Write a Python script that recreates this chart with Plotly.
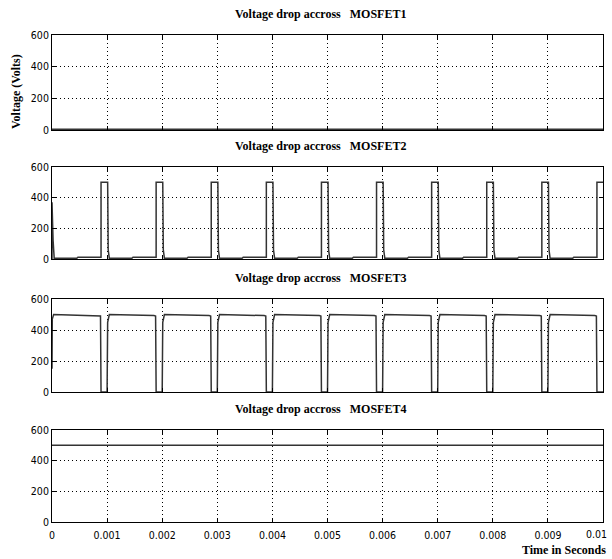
import plotly.graph_objects as go

# ---- data (time in ms, voltage in V) ----
m1_t = [0.0, 10.0]
m1_v = [4, 4]

m2_t = [0.0, 0.0, 0.02, 0.04, 0.45, 0.47, 0.89, 0.89,
        1.01, 1.02, 1.04, 1.45, 1.47, 1.89, 1.89,
        2.01, 2.02, 2.04, 2.45, 2.47, 2.89, 2.89,
        3.01, 3.02, 3.04, 3.45, 3.47, 3.89, 3.89,
        4.01, 4.02, 4.04, 4.45, 4.47, 4.89, 4.89,
        5.01, 5.02, 5.04, 5.45, 5.47, 5.89, 5.89,
        6.01, 6.02, 6.04, 6.45, 6.47, 6.89, 6.89,
        7.01, 7.02, 7.04, 7.45, 7.47, 7.89, 7.89,
        8.01, 8.02, 8.04, 8.45, 8.47, 8.89, 8.89,
        9.01, 9.02, 9.04, 9.45, 9.47, 9.89, 9.89, 10.0]
m2_v = [0, 370, 120, 5, 5, 12, 12, 500,
        500, 60, 5, 5, 12, 12, 500,
        500, 60, 5, 5, 12, 12, 500,
        500, 60, 5, 5, 12, 12, 500,
        500, 60, 5, 5, 12, 12, 500,
        500, 60, 5, 5, 12, 12, 500,
        500, 60, 5, 5, 12, 12, 500,
        500, 60, 5, 5, 12, 12, 500,
        500, 60, 5, 5, 12, 12, 500,
        500, 60, 5, 5, 12, 12, 500, 500]

m3_t = [0.0, 0.005, 0.03, 0.85, 0.88, 0.89, 1.0,
        1.01, 1.04, 1.85, 1.88, 1.89, 2.0,
        2.01, 2.04, 2.85, 2.88, 2.89, 3.0,
        3.01, 3.04, 3.85, 3.88, 3.89, 4.0,
        4.01, 4.04, 4.85, 4.88, 4.89, 5.0,
        5.01, 5.04, 5.85, 5.88, 5.89, 6.0,
        6.01, 6.04, 6.85, 6.88, 6.89, 7.0,
        7.01, 7.04, 7.85, 7.88, 7.89, 8.0,
        8.01, 8.04, 8.85, 8.88, 8.89, 9.0,
        9.01, 9.04, 9.85, 9.88, 9.89, 10.0]
m3_v = [150, 470, 500, 493, 490, 0, 0,
        450, 500, 493, 490, 0, 0,
        450, 500, 493, 490, 0, 0,
        450, 500, 493, 490, 0, 0,
        450, 500, 493, 490, 0, 0,
        450, 500, 493, 490, 0, 0,
        450, 500, 493, 490, 0, 0,
        450, 500, 493, 490, 0, 0,
        450, 500, 493, 490, 0, 0,
        450, 500, 493, 490, 0, 0]

m4_t = [0.0, 10.0]
m4_v = [500, 500]

titles = ["Voltage drop accross   MOSFET1", "Voltage drop accross   MOSFET2",
          "Voltage drop accross   MOSFET3", "Voltage drop accross   MOSFET4"]
x_tick_vals = [0, 0.001, 0.002, 0.003, 0.004, 0.005, 0.006, 0.007, 0.008, 0.009, 0.01]
x_tick_text = ["0", "0.001", "0.002", "0.003", "0.004", "0.005", "0.006",
               "0.007", "0.008", "0.009", "0.01"]
y_tick_vals = [0, 200, 400, 600]

series = [(m1_t, m1_v), (m2_t, m2_v), (m3_t, m3_v), (m4_t, m4_v)]

# ---- layout geometry (pixels in the 612x559 window; body margin removed via post_script) ----
W, H = 612, 559
left_px, right_px, top_px, bottom_px = 52, 603, 35, 522
ml, mr, mt, mb = left_px, W - right_px, top_px, H - bottom_px
ph = bottom_px - top_px
panels_px = [(35, 130), (167, 259), (299, 392), (430, 522)]


def py(y):
    return (bottom_px - y) / ph


def px(x):
    return (x - left_px) / (right_px - left_px)


tick_font = dict(family="Liberation Sans Narrow, DejaVu Sans Condensed, Arial Narrow, sans-serif",
                 size=10.5, color="black")
title_font = dict(family="Liberation Serif, Times New Roman, serif", size=12, color="black")

fig = go.Figure()
layout = dict(width=W, height=H, margin=dict(l=ml, r=mr, t=mt, b=mb, autoexpand=False),
              paper_bgcolor="white", plot_bgcolor="white", showlegend=False,
              annotations=[])

# last x tick label sits at the window edge: drawn as a right-aligned annotation instead
shown_x_text = x_tick_text[:-1] + [""]

grid_dash = "1px,3px"
for i, ((t, v), (top, bot)) in enumerate(zip(series, panels_px)):
    n = "" if i == 0 else str(i + 1)
    fig.add_trace(go.Scatter(x=[tt / 1000 for tt in t], y=v, mode="lines",
                             line=dict(color="#333333", width=1.5),
                             xaxis="x" + n, yaxis="y" + n, hoverinfo="skip"))
    layout["xaxis" + n] = dict(domain=[0, 1], range=[0, 0.01], anchor="y" + n,
                               tickvals=x_tick_vals, ticktext=shown_x_text,
                               showticklabels=(i == 3), tickfont=tick_font,
                               ticklabelstandoff=3, automargin=False,
                               ticks="inside", ticklen=4, tickcolor="black",
                               showline=True, linecolor="black", linewidth=1, mirror="ticks",
                               showgrid=True, gridcolor="black", griddash=grid_dash, gridwidth=1,
                               zeroline=False, fixedrange=True)
    layout["yaxis" + n] = dict(domain=[py(bot), py(top)], range=[0, 600], anchor="x" + n,
                               tickvals=y_tick_vals, tickfont=tick_font, automargin=False,
                               ticks="inside", ticklen=4, tickcolor="black",
                               showline=True, linecolor="black", linewidth=1, mirror="ticks",
                               showgrid=True, gridcolor="black", griddash=grid_dash, gridwidth=1,
                               zeroline=False, fixedrange=True)
    layout["annotations"].append(dict(text="<b>" + titles[i].replace(" ", "&nbsp;") + "</b>",
                                      xref="paper", yref="paper", x=px(320), y=py(top - 21),
                                      xanchor="center", yanchor="middle", showarrow=False,
                                      font=title_font))

layout["annotations"].append(dict(text=x_tick_text[-1], xref="x4", yref="paper",
                                  x=x_tick_vals[-1], y=py(534), xanchor="right", xshift=6,
                                  yanchor="middle", showarrow=False, font=tick_font))
layout["annotations"].append(dict(text="<b>Time in Seconds</b>", xref="paper", yref="paper",
                                  x=px(608), y=py(550), xanchor="right", yanchor="middle",
                                  showarrow=False, font=title_font))
layout["annotations"].append(dict(text="<b>Voltage (Volts)</b>", xref="paper", yref="paper",
                                  x=px(16), y=py(92), xanchor="center", yanchor="middle",
                                  textangle=-90, showarrow=False, font=title_font))

fig.update_layout(**layout)
fig.write_html("out.html", config={"displayModeBar": False},
               post_script="document.body.style.margin='0';"
                           "document.body.style.overflow='hidden';")
